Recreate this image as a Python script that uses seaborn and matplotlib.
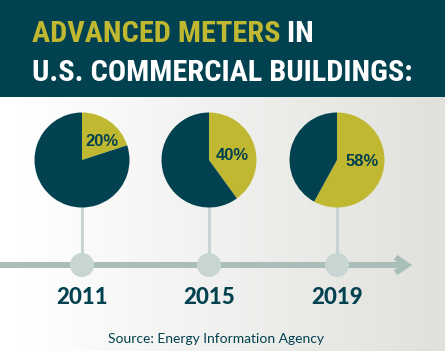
import numpy as np
import pandas as pd
import matplotlib
matplotlib.use("Agg")
import matplotlib.pyplot as plt
import seaborn as sns
from matplotlib.colors import to_rgb
from matplotlib import font_manager as fm

# chart data
years = ["2011", "2015", "2019"]
share_advanced = [20, 40, 58]
title_highlight = "ADVANCED METERS"
title_rest = " IN"
title_line2 = "U.S. COMMERCIAL BUILDINGS:"
source_text = "Source: Energy Information Agency"

# layout (pixels, y measured from bottom)
W, H = 445, 351
pie_x = [82, 209, 337]
pie_y = 191
pie_r = 47.5
timeline_y = 86
header_bottom = 254
label_offsets = [(20, 18), (23, 5), (25, -1)]

teal = "#02414f"
olive = "#c1b831"
stem_col = "#c6d5d3"
dot_col = "#c8d6d3"
line_col = "#a9bdb9"


def pick_title_font():
    # want a condensed bold face for the header, use whatever is around
    for fam, stretch in [("Roboto Condensed", "normal"), ("Liberation Sans Narrow", "normal"),
                         ("Noto Sans", "condensed"), ("DejaVu Sans", "condensed")]:
        try:
            path = fm.findfont(fm.FontProperties(family=fam, weight="bold", stretch=stretch),
                               fallback_to_default=False)
        except ValueError:
            continue
        if "ondensed" in path or "Narrow" in path:
            return fam, stretch
    return "Liberation Sans", "normal"


sns.set_theme(style="white")
plt.rcParams["font.family"] = ["Liberation Sans", "DejaVu Sans"]

fig = plt.figure(figsize=(W / 100, H / 100), dpi=100)
ax = fig.add_axes([0, 0, 1, 1])

# background gradient below header
xs = np.linspace(0, 1, 445)
t = np.clip((xs - 0.05) / 0.95, 0, 1)
c0 = np.array(to_rgb("#ffffff"))
c1 = np.array(to_rgb("#e0e0dc"))
grad = c0[None, :] * (1 - t[:, None]) + c1[None, :] * t[:, None]
ax.imshow(grad[None, :, :], extent=(0, W, 0, header_bottom), aspect="auto", zorder=0)

# header band
ax.axhspan(header_bottom, H, color=teal, zorder=1, lw=0)

# timeline with arrow
ax.annotate("", xy=(412, timeline_y), xytext=(0, timeline_y),
            arrowprops=dict(arrowstyle="->,head_length=0.8,head_width=0.55",
                            lw=4.3, color=line_col, shrinkA=0, shrinkB=0,
                            mutation_scale=10, joinstyle="miter", capstyle="butt"),
            zorder=2)

# stems
ax.vlines(pie_x, timeline_y, pie_y - pie_r + 2, color=stem_col, lw=2.2, zorder=2)

# timeline dots
df = pd.DataFrame({"x": pie_x, "y": [timeline_y] * 3, "year": years})
sns.scatterplot(data=df, x="x", y="y", s=300, color=dot_col, edgecolor="none",
                ax=ax, zorder=3, legend=False)

# pies
for cx, val, (dx, dy) in zip(pie_x, share_advanced, label_offsets):
    ax.pie([val, 100 - val], colors=[olive, teal], startangle=90, counterclock=False,
           center=(cx, pie_y), radius=pie_r, frame=True,
           wedgeprops=dict(linewidth=0, zorder=4))
    ax.text(cx + dx, pie_y + dy, f"{val}%", ha="center", va="center",
            fontsize=12, fontweight="bold", color=teal, zorder=5)

# year labels
for cx, yr in zip(pie_x, years):
    ax.text(cx, 53, yr, ha="center", va="center", fontsize=16,
            family=["Lato", "DejaVu Sans"], fontweight="black", color=teal, zorder=5)

# title
tfam, tstretch = pick_title_font()
tkw = dict(family=[tfam, "DejaVu Sans"], fontstretch=tstretch, fontweight="bold", zorder=5)
t2 = ax.text(32, 270, title_line2, ha="left", va="baseline", fontsize=22,
             color="white", **tkw)
fig.canvas.draw()
tsize = 22 * 380 / t2.get_window_extent().width
tsize = min(tsize, 23)
t2.set_fontsize(tsize)
t1 = ax.text(32, 309, title_highlight, ha="left", va="baseline", fontsize=tsize,
             color=olive, **tkw)
ax.annotate(title_rest, xy=(1, 0), xycoords=t1, ha="left", va="bottom",
            fontsize=tsize, color="white", **tkw)

# source
ax.text(216.5, 12, source_text, ha="center", va="center", fontsize=10,
        family=["Lato", "DejaVu Sans"], color=teal, zorder=5)

ax.set_xlim(0, W)
ax.set_ylim(0, H)
ax.set_aspect("auto")
ax.axis("off")

fig.savefig("out.png", dpi=100)
